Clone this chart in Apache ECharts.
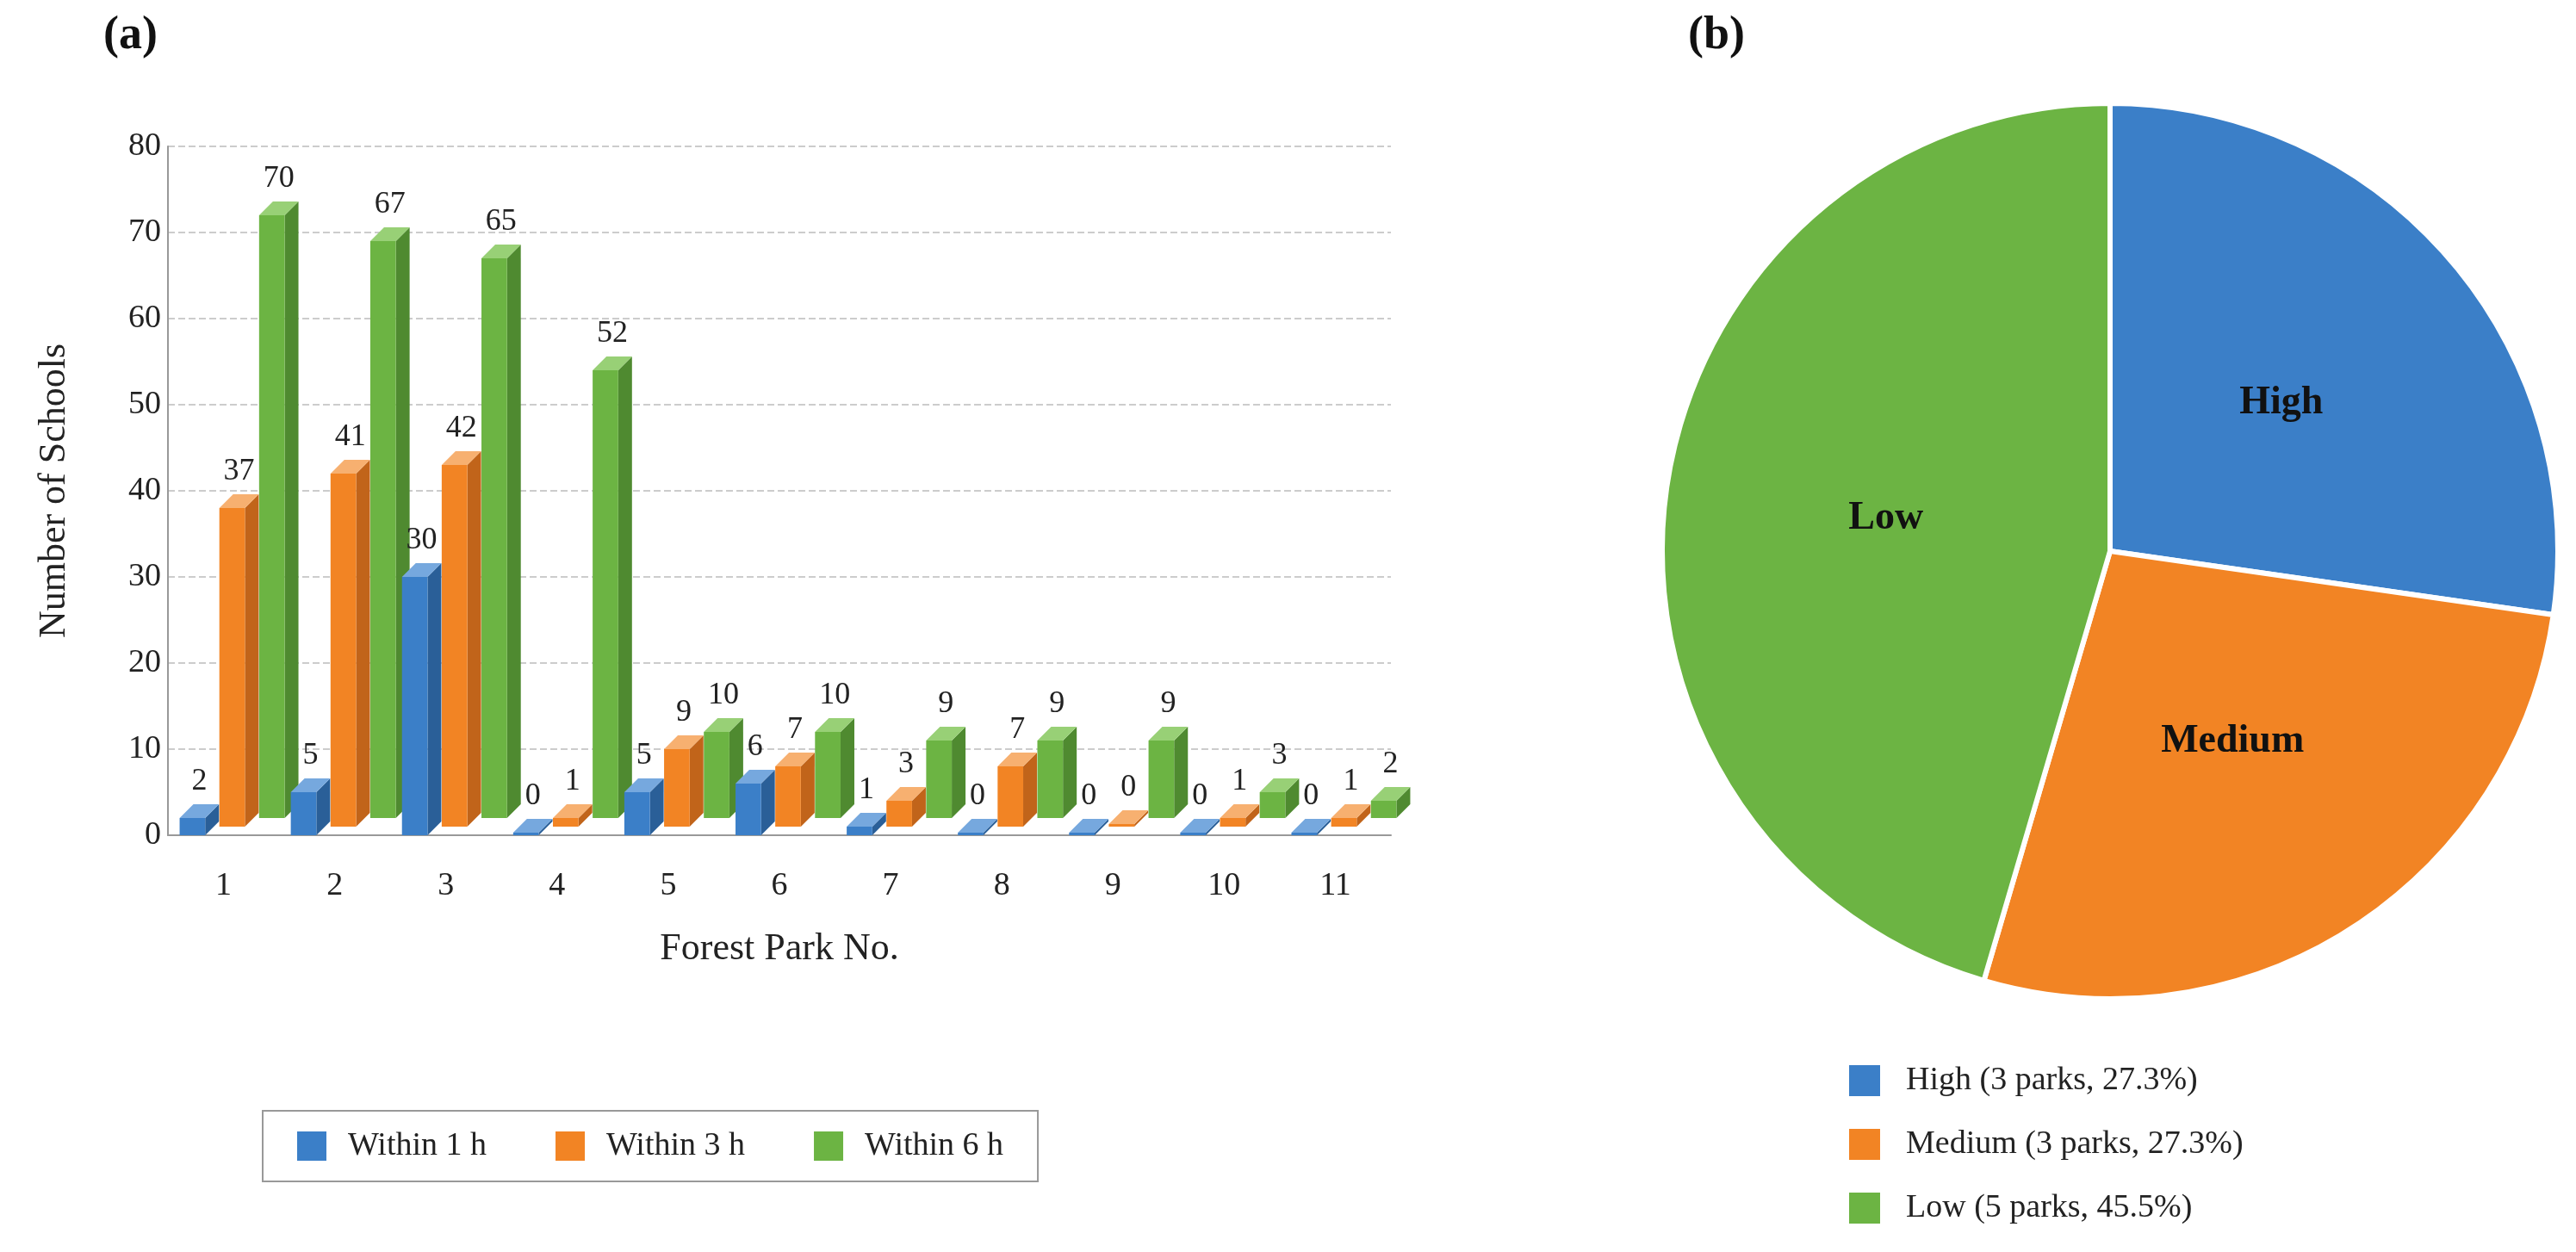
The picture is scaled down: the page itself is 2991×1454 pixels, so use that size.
<!DOCTYPE html>
<html lang="en">
<head>
  <meta charset="UTF-8">
  <title>Forest parks</title>
  <script src="https://cdn.jsdelivr.net/npm/echarts@6/dist/echarts.min.js"></script>
</head>
<body style="margin:0;background:#fff">
  <div id="main" style="width:2991px;height:1454px"></div>
  <script>
    // data
    var parks = ['1', '2', '3', '4', '5', '6', '7', '8', '9', '10', '11']
    var within1 = [2, 5, 30, 0, 5, 6, 1, 0, 0, 0, 0]
    var within3 = [37, 41, 42, 1, 9, 7, 3, 7, 0, 1, 1]
    var within6 = [70, 67, 65, 52, 10, 10, 9, 9, 9, 3, 2]
    var yTicks = [0, 80, 10]
    var levels = ['High', 'Medium', 'Low']
    var levelParks = [3, 3, 5]
    var levelPct = ['27.3%', '27.3%', '45.5%']

    var font = 'Liberation Serif'
    var colors = ['#3b7fc8', '#f28424', '#6cb443']
    var sides = ['#2a5f98', '#c1641a', '#4f8a30']
    var tops = ['#76a8de', '#f7b070', '#98d076']

    var chart = echarts.init(document.getElementById('main'))

    function bar3d(s) {
      return function (params, api) {
        var idx = api.value(0), val = api.value(1)
        var band = api.size([1, 0])[0]
        var w = band * 0.23
        var d = 16
        var base = api.coord([idx, 0])
        var top = api.coord([idx, val])
        var shift = (s - 1) * band * 0.28 + s * 10
        var lift = -s * 10
        var x0 = base[0] + shift - w / 2
        var yb = base[1] + lift, yt = top[1] + lift
        if (yb - yt < 3) yt = yb - 3
        return {
          type: 'group',
          children: [
            { type: 'polygon', shape: { points: [[x0 + w, yt], [x0 + w + d, yt - d], [x0 + w + d, yb - d], [x0 + w, yb]] }, style: { fill: sides[s] } },
            { type: 'polygon', shape: { points: [[x0, yt], [x0 + d, yt - d], [x0 + w + d, yt - d], [x0 + w, yt]] }, style: { fill: tops[s] } },
            { type: 'rect', shape: { x: x0, y: yt, width: w, height: yb - yt }, style: { fill: colors[s] } },
            { type: 'text', x: x0 + w / 2 + d / 2, y: yt - d - 8, style: { text: String(val), fontFamily: font, fontSize: 36, fill: '#222', align: 'center', verticalAlign: 'bottom' } }
          ]
        }
      }
    }

    var names = ['Within 1 h', 'Within 3 h', 'Within 6 h']
    var barData = [within1, within3, within6]
    var series = [2, 1, 0].map(function (s) {
      return {
        type: 'custom',
        name: names[s],
        renderItem: bar3d(s),
        itemStyle: { color: colors[s] },
        encode: { x: 0, y: 1 },
        data: barData[s].map(function (v, i) { return [i, v] }),
        z: 10 - s
      }
    })

    var pieData = levels.map(function (n, i) {
      return { name: n, value: levelParks[i], itemStyle: { color: colors[i] } }
    })
    series.push({
      type: 'pie',
      center: [2450, 640],
      radius: [0, 520],
      startAngle: 90,
      clockwise: true,
      data: pieData,
      itemStyle: { borderColor: '#fff', borderWidth: 6 },
      label: { position: 'inside', formatter: '{b}', fontFamily: font, fontSize: 46, fontWeight: 'bold', color: '#111' }
    })

    var option = {
      textStyle: { fontFamily: font },
      graphic: [
        { type: 'text', left: 120, top: 15, style: { text: '(a)', fontFamily: font, fontSize: 54, fontWeight: 'bold', fill: '#111' } },
        { type: 'text', left: 1960, top: 15, style: { text: '(b)', fontFamily: font, fontSize: 54, fontWeight: 'bold', fill: '#111' } }
      ],
      legend: [
        {
          data: names, left: 305, top: 1290, width: 1070, itemGap: 80,
          itemWidth: 34, itemHeight: 34, icon: 'rect', padding: [22, 40],
          borderColor: '#999', borderWidth: 2,
          textStyle: { fontFamily: font, fontSize: 38, color: '#222', padding: [0, 0, 0, 20] }
        },
        {
          data: levels, orient: 'vertical', left: 2140, top: 1230, itemGap: 34,
          itemWidth: 38, itemHeight: 38, icon: 'rect',
          formatter: function (n) {
            var i = levels.indexOf(n)
            return n + ' (' + levelParks[i] + ' parks, ' + levelPct[i] + ')'
          },
          textStyle: { fontFamily: font, fontSize: 38, color: '#222', padding: [0, 0, 0, 24] }
        }
      ],
      grid: { left: 195, top: 170, width: 1420, height: 800 },
      xAxis: {
        type: 'category', data: parks,
        name: 'Forest Park No.', nameLocation: 'middle', nameGap: 110,
        nameTextStyle: { fontFamily: font, fontSize: 44, color: '#222' },
        axisLine: { lineStyle: { color: '#999', width: 2 } },
        axisTick: { show: false },
        axisLabel: { fontFamily: font, fontSize: 38, color: '#222', margin: 40 }
      },
      yAxis: {
        type: 'value', min: yTicks[0], max: yTicks[1], interval: yTicks[2],
        name: 'Number of Schools', nameLocation: 'middle', nameGap: 110,
        nameTextStyle: { fontFamily: font, fontSize: 44, color: '#222' },
        axisLine: { show: true, lineStyle: { color: '#999', width: 2 } },
        axisLabel: { fontFamily: font, fontSize: 38, color: '#222' },
        splitLine: { lineStyle: { type: 'dashed', color: '#ccc', width: 2 } }
      },
      series: series
    }
    chart.setOption(option)
  </script>
</body>
</html>
